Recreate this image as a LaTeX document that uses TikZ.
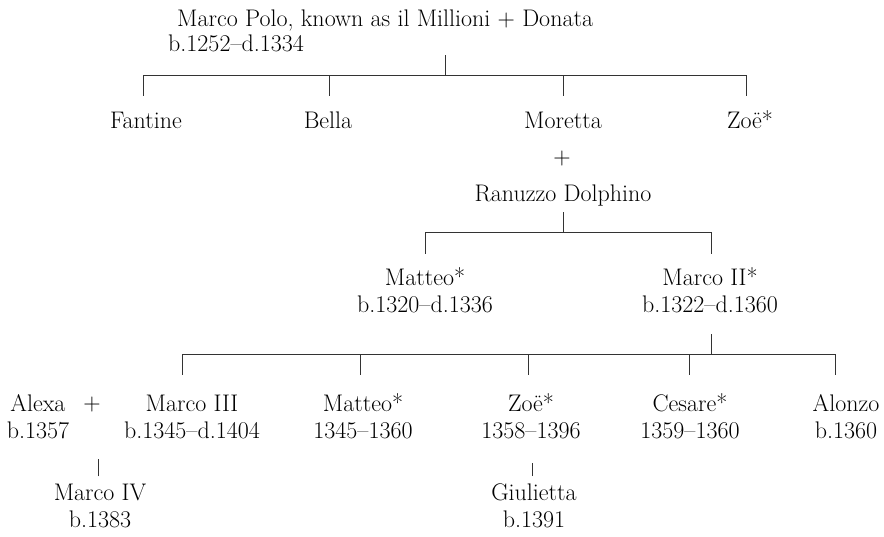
\documentclass[tikz,border=0pt]{standalone}
\usepackage{tikz}

\tikzset{
  person/.style={align=center, inner sep=0pt, anchor=base,
    font=\fontsize{24}{27}\selectfont},
  link/.style={line width=0.9pt, black!80},
}

\begin{document}
\begin{tikzpicture}[x=1pt, y=-1pt]
      \useasboundingbox (0,0) rectangle (884,536);
      % first generation
      \node[person, anchor=base west] (polo) at (177,26) {Marco Polo, known as il Millioni + Donata};
      \node[person, anchor=base west] (polodates) at (168,51) {b.1252--d.1334};
      \coordinate (bar1) at (445,75);
      \node[person] (fantine) at (146,128) {Fantine};
      \node[person] (bella) at (328,128) {Bella};
      \node[person] (moretta) at (563,128) {Moretta};
      \node[person] (zoe) at (750,128) {Zo\"e*};
      \draw[link] (bar1) -- ++(0,-20);
      \draw[link] ([xshift=-3pt]bar1 -| fantine) -- ([xshift=-4pt]bar1 -| zoe);
      \foreach \n/\s in {fantine/-3, bella/1, moretta/0, zoe/-4}
        \draw[link] ([xshift=\s pt]bar1 -| \n) -- ++(0,21);
      % Moretta's marriage
      \node[person, anchor=center] (plus1) at (562,159) {+};
      \node[person] (ranuzzo) at (563,201) {Ranuzzo Dolphino};
      \coordinate (bar2) at (563,232);
      \node[person] (matteo) at (425,312) {Matteo*\\b.1320--d.1336};
      \node[person] (marcoii) at (710,312) {Marco II*\\b.1322--d.1360};
      \draw[link] (bar2) -- ++(0,-20);
      \draw[link] (bar2 -| matteo) -- ([xshift=1pt]bar2 -| marcoii);
      \foreach \n/\s in {matteo/0, marcoii/1}
        \draw[link] ([xshift=\s pt]bar2 -| \n) -- ++(0,22);
      % children of Marco II
      \coordinate (bar3) at (711,354);
      \node[person] (alexa) at (38,438) {Alexa\\b.1357};
      \node[person, anchor=center] (plus2) at (92,405) {+};
      \node[person] (marcoiii) at (192,438) {Marco III\\b.1345--d.1404};
      \node[person] (matteoii) at (363,438) {Matteo*\\1345--1360};
      \node[person] (zoeii) at (531,438) {Zo\"e*\\1358--1396};
      \node[person] (cesare) at (690,438) {Cesare*\\1359--1360};
      \node[person] (alonzo) at (846,438) {Alonzo\\b.1360};
      \draw[link] (bar3) -- ++(0,-20);
      \draw[link] ([xshift=-10pt]bar3 -| marcoiii) -- ([xshift=-11pt]bar3 -| alonzo);
      \foreach \n/\s in {marcoiii/-10, matteoii/-3, zoeii/-3, cesare/-1, alonzo/-11}
        \draw[link] ([xshift=\s pt]bar3 -| \n) -- ++(0,21);
      % grandchildren
      \node[person] (marcoiv) at (100,527) {Marco IV\\b.1383};
      \node[person] (giulietta) at (534,527) {Giulietta\\b.1391};
      \draw[link] (plus2 |- marcoiv.north) ++(6,-7) -- ++(0,-17);
      \draw[link] (giulietta.north) ++(-2,-7) -- ++(0,-13);
    \end{tikzpicture}
\end{document}
